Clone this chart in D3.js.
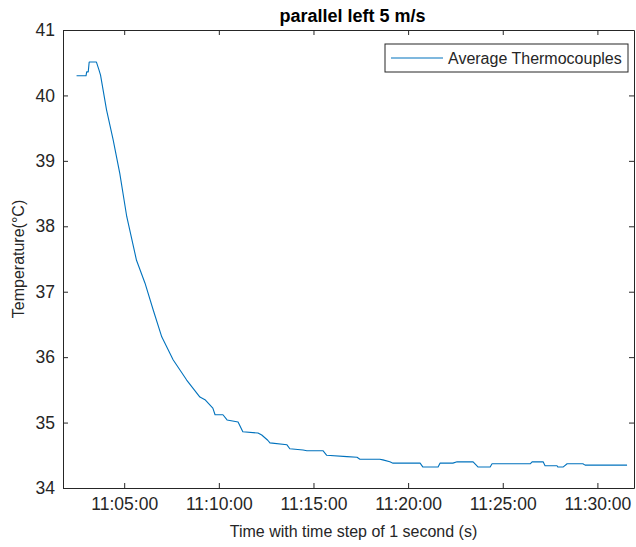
<!DOCTYPE html>
<html>
<head>
<meta charset="utf-8">
<script src="https://cdn.jsdelivr.net/npm/d3@7"></script>
<style>
  html, body { margin: 0; padding: 0; background: #fff; }
  svg { display: block; font-family: "Liberation Sans", Arial, Helvetica, sans-serif; }
</style>
</head>
<body>
<div id="chart"></div>
<script>
// Average thermocouple temperature, parallel left 5 m/s

const TITLE = 'parallel left 5 m/s';
const X_LABEL = 'Time with time step of 1 second (s)';
const Y_LABEL = 'Temperature(°C)';
const SERIES_NAME = 'Average Thermocouples';

// values (time of day, temperature in °C)
const times = [
    '11:02:29','11:02:59','11:03:01','11:03:06','11:03:09','11:03:32','11:03:40','11:03:45',
    '11:04:04','11:04:25','11:04:46','11:05:08','11:05:39','11:06:06','11:06:32',
    '11:06:59','11:07:35','11:08:18','11:09:00','11:09:16','11:09:41','11:09:48','11:10:13',
    '11:10:26','11:11:01','11:11:16','11:12:04','11:12:16','11:12:35','11:12:42','11:13:36',
    '11:13:45','11:14:27','11:14:39','11:15:30','11:15:42','11:16:46','11:17:18','11:17:27',
    '11:18:30','11:18:40','11:19:02','11:19:12','11:20:38','11:20:47','11:21:35','11:21:41',
    '11:22:22','11:22:35','11:23:26','11:23:42','11:24:20','11:24:26','11:26:27','11:26:33',
    '11:27:08','11:27:14','11:27:52','11:27:55','11:28:11','11:28:24','11:29:14','11:29:21',
    '11:31:34'
];
const temps = [
    40.30, 40.30, 40.36, 40.36, 40.51, 40.51, 40.39, 40.31,
    39.78, 39.32, 38.81, 38.15, 37.48, 37.13, 36.72,
    36.31, 35.96, 35.65, 35.39, 35.35, 35.22, 35.12, 35.12,
    35.04, 35.01, 34.86, 34.84, 34.81, 34.73, 34.69, 34.66,
    34.60, 34.58, 34.57, 34.57, 34.50, 34.48, 34.47, 34.44,
    34.44, 34.43, 34.40, 34.38, 34.38, 34.32, 34.32, 34.38,
    34.38, 34.40, 34.40, 34.32, 34.32, 34.37, 34.37, 34.40,
    34.40, 34.34, 34.34, 34.32, 34.32, 34.37, 34.37, 34.35,
    34.35
];

const yTicks = [34, 35, 36, 37, 38, 39, 40, 41];
const xTicks = ['11:05:00', '11:10:00', '11:15:00', '11:20:00', '11:25:00', '11:30:00'];
const xDomain = ['11:01:46', '11:31:56'];
const yDomain = [34, 41];

const W = 636, H = 547;
const margin = { top: 30, right: 2, bottom: 59, left: 63 };
const iw = W - margin.left - margin.right;
const ih = H - margin.top - margin.bottom;

const LINE_COLOR = '#0072BD';
const AXIS_COLOR = '#262626';

const parse = d3.timeParse('%H:%M:%S');
const fmt = d3.timeFormat('%H:%M:%S');
const data = times.map((t, i) => ({ t: parse(t), v: temps[i] }));

const svg = d3.select('#chart').append('svg')
    .attr('width', W).attr('height', H);

const g = svg.append('g').attr('transform', `translate(${margin.left},${margin.top})`);

const x = d3.scaleTime().domain(xDomain.map(parse)).range([0, iw]);
const y = d3.scaleLinear().domain(yDomain).range([ih, 0]);

// Data line
const line = d3.line().x(d => x(d.t)).y(d => y(d.v));
g.append('path')
    .datum(data)
    .attr('fill', 'none')
    .attr('stroke', LINE_COLOR)
    .attr('stroke-width', 1.1)
    .attr('stroke-linejoin', 'round')
    .attr('d', line);

// Axes (ticks pointing inward, box closed)
const xt = xTicks.map(parse);
const xAxis = d3.axisBottom(x).tickValues(xt).tickFormat(fmt).tickSizeInner(-5).tickSizeOuter(0).tickPadding(10);
const xAxisTop = d3.axisTop(x).tickValues(xt).tickFormat('').tickSizeInner(-5).tickSizeOuter(0);
const yAxis = d3.axisLeft(y).tickValues(yTicks).tickFormat(d3.format('d')).tickSizeInner(-5).tickSizeOuter(0).tickPadding(8);
const yAxisRight = d3.axisRight(y).tickValues(yTicks).tickFormat('').tickSizeInner(-5).tickSizeOuter(0);

function styleAxis(sel) {
    sel.select('.domain').attr('stroke', AXIS_COLOR).attr('stroke-width', 1);
    sel.selectAll('.tick line').attr('stroke', AXIS_COLOR).attr('stroke-width', 1);
    sel.selectAll('.tick text').attr('fill', AXIS_COLOR)
        .style('font-size', '17.5px').style('font-family', '"Liberation Sans", Arial, sans-serif');
}

g.append('g').attr('transform', `translate(0,${ih})`).call(xAxis).call(styleAxis);
g.append('g').call(xAxisTop).call(styleAxis);
g.append('g').call(yAxis).call(styleAxis);
g.append('g').attr('transform', `translate(${iw},0)`).call(yAxisRight).call(styleAxis);

// Title and axis labels
svg.append('text')
    .attr('x', margin.left + iw / 2 + 4).attr('y', 22)
    .attr('text-anchor', 'middle')
    .attr('fill', '#000')
    .style('font-size', '18px').style('font-weight', 'bold')
    .text(TITLE);

svg.append('text')
    .attr('x', margin.left + iw / 2 + 5).attr('y', 537)
    .attr('text-anchor', 'middle')
    .attr('fill', AXIS_COLOR)
    .style('font-size', '16px')
    .text(X_LABEL);

svg.append('text')
    .attr('transform', `translate(24,${margin.top + ih / 2}) rotate(-90)`)
    .attr('text-anchor', 'middle')
    .attr('fill', AXIS_COLOR)
    .style('font-size', '16px')
    .text(Y_LABEL);

// Legend
const legend = svg.append('g').attr('transform', 'translate(385,44)');
legend.append('rect')
    .attr('width', 243).attr('height', 28)
    .attr('fill', '#fff').attr('stroke', AXIS_COLOR).attr('stroke-width', 1);
legend.append('line')
    .attr('x1', 6).attr('x2', 58).attr('y1', 14).attr('y2', 14)
    .attr('stroke', LINE_COLOR).attr('stroke-width', 1.1);
legend.append('text')
    .attr('x', 63).attr('y', 19.5)
    .attr('fill', AXIS_COLOR)
    .style('font-size', '16px')
    .text(SERIES_NAME);
</script>
</body>
</html>
